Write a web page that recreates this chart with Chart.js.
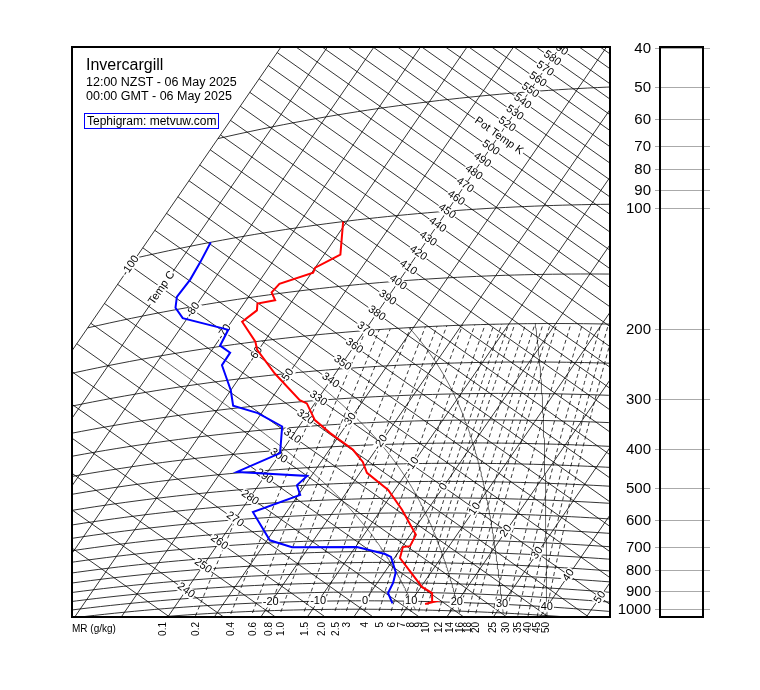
<!DOCTYPE html>
<html>
<head>
<meta charset="utf-8">
<script src="https://cdn.jsdelivr.net/npm/chart.js@4"></script>
<style>
  body { margin: 0; background: #fff; }
  canvas { display: block; }
</style>
</head>
<body>
<canvas id="tephi" width="760" height="690"></canvas>
<script>
// sounding: temperature
const presTemp = [1014, 1002, 952, 920, 780, 732, 728, 682, 589, 524, 472, 442, 410, 368, 338, 304, 297, 248, 211, 200, 174, 164, 157, 156, 148, 141, 135, 131, 123, 100];
const temp = [13.4, 14.8, 13.3, 10.2, 1.2, 0.2, 1.6, 1.2, -5.5, -11.4, -18.5, -21.0, -24.9, -32.3, -37.5, -41.7, -43.7, -53.0, -60.3, -61.9, -67.7, -66.2, -67.1, -63.8, -65.7, -65.3, -59.7, -60.0, -56.5, -60.8];
// sounding: dew point
const presDew = [1014, 955, 901, 847, 775, 762, 730, 723, 689, 577, 529, 499, 473, 447, 407, 346, 314, 295, 267, 226, 210, 199, 181, 178, 160, 148, 138, 125, 113, 100];
const dew = [6.3, 3.8, 3.4, 2.4, -0.9, -2.6, -9.7, -23.6, -29.4, -37.2, -29.6, -31.7, -30.9, -46.6, -40.1, -43.6, -50.8, -57.2, -60.0, -65.6, -65.7, -68.9, -69.5, -71.1, -81.0, -84.1, -85.4, -85.1, -85.5, -86.2];

// diagram lines / labels
const isotherms = [-100, -90, -80, -70, -60, -50, -40, -30, -20, -10, 0, 10, 20, 30, 40, 50];
const isotherms2 = [-100, -80, -70, -60, -50, -30, -20, -10, 0, 10, 20, 30, 40, 50];
const bottomTemps = [-20, -10, 0, 10, 20, 30, 40];
const isentropes = [];
for (let th = 230; th <= 610; th += 10) isentropes.push(th);
const isobars = [1050, 1000, 950, 900, 850, 800, 750, 700, 650, 600, 550, 500, 450, 400, 350, 300, 250, 200, 150, 100, 50];
const mixRatios = [0.1, 0.2, 0.4, 0.6, 0.8, 1.0, 1.5, 2.0, 2.5, 3, 4, 5, 6, 7, 8, 9, 10, 12, 14, 16, 18, 20, 25, 30, 35, 40, 45, 50];
const mixLabels = ['0.1', '0.2', '0.4', '0.6', '0.8', '1.0', '1.5', '2.0', '2.5', '3', '4', '5', '6', '7', '8', '9', '10', '12', '14', '16', '18', '20', '25', '30', '35', '40', '45', '50'];
const satAdiabats = [10, 20, 30, 40];
const pressureTicks = [40, 50, 60, 70, 80, 90, 100, 200, 300, 400, 500, 600, 700, 800, 900, 1000];

// tephigram transform: (T, theta) -> diagram plane
function xyTh(T, th) {
  const L = Math.log(th / 330);
  return { x: 318.2 + 3.13 * (T + 40) + 415 * L, y: 398.4 + 2.21 * (T + 40) - 603 * L };
}
function xy(T, p) {
  return xyTh(T, (T + 273.15) * Math.pow(1000 / p, 0.2857));
}
function dewFromMix(w, p) {
  const e = w * p / (622 + w);
  const g = Math.log(e / 6.112);
  return 243.5 * g / (17.67 - g);
}
function dTdp(T, p) {
  const es = 6.112 * Math.exp(17.67 * (T - 273.15) / (T - 29.65));
  const rs = 0.622 * es / (p - es);
  return (287 * T + 2.5e6 * rs) / (1004 + 2.5e6 * 2.5e6 * rs * 0.622 / (287 * T * T)) / p;
}
function satLine(thw) {
  const pts = [];
  let T = thw + 273.15;
  pts.push(xy(T + dTdp(T, 1000) * 50 - 273.15, 1050));
  for (let p = 1000; p >= 200; p -= 5) {
    pts.push(xy(T - 273.15, p));
    T -= dTdp(T, p) * 5;
  }
  return pts;
}

function ln(pts, color, width, dash) {
  return { data: pts, showLine: true, pointRadius: 0, borderColor: color, borderWidth: width,
           borderDash: dash || [], fill: false, tension: 0 };
}

const datasets = [
  ln(presTemp.map((p, i) => xy(temp[i], p)), '#ff0000', 2),
  ln(presDew.map((p, i) => xy(dew[i], p)), '#0000ff', 2)
];
const gridStart = datasets.length;
isotherms.forEach(T => datasets.push(ln([xy(T, 1200), xy(T, 20)], '#000', 0.8)));
isentropes.forEach(th => datasets.push(ln([xyTh(-100, th), xyTh(60, th)], '#000', 0.8)));
isobars.forEach(p => {
  const pts = [];
  for (let T = -100; T <= 60; T += 2) pts.push(xy(T, p));
  datasets.push(ln(pts, '#000', 0.8));
});
mixRatios.forEach(w => {
  const pts = [];
  for (let p = 1060; p >= 200; p -= 10) {
    const td = dewFromMix(w, p);
    if (td >= -40) pts.push(xy(td, p));
  }
  if (pts.length > 1) datasets.push(ln(pts, '#000', 0.8, [4, 3]));
});
satAdiabats.forEach(t => datasets.push(ln(satLine(t), '#000', 0.6)));
const lastGrid = gridStart;

function tag(ctx, text, x, y, angle, font, bg) {
  ctx.save();
  ctx.translate(x, y);
  ctx.rotate(angle);
  ctx.font = font;
  ctx.textAlign = 'center';
  ctx.textBaseline = 'middle';
  if (bg) {
    const w = ctx.measureText(text).width;
    ctx.fillStyle = '#fff';
    ctx.fillRect(-w / 2 - 1, -5, w + 2, 10);
  }
  ctx.fillStyle = '#000';
  ctx.fillText(text, 0, 0);
  ctx.restore();
}

const tephiPlugin = {
  id: 'tephi',
  afterDatasetDraw(chart, args) {
    if (args.index !== lastGrid) return;
    const { ctx, chartArea: a, scales } = chart;
    const px = q => ({ x: scales.x.getPixelForValue(q.x), y: scales.y.getPixelForValue(q.y) });
    ctx.save();
    ctx.beginPath();
    ctx.rect(a.left, a.top, a.right - a.left, a.bottom - a.top);
    ctx.clip();
    const f = '11px "Liberation Sans", Arial, sans-serif';
    isentropes.forEach(th => {
      if (th < 240 || th > 590) return;
      const q = px(xyTh(-40, th));
      tag(ctx, th === 510 ? 'Pot Temp K' : String(th), q.x, q.y, 0.615, f, true);
    });
    tag(ctx, 'Temp C', px(xyTh(-90, 330)).x, px(xyTh(-90, 330)).y, -0.969, f, true);
    isotherms2.forEach(T => {
      const q = px(xyTh(T, 330));
      tag(ctx, String(T), q.x, q.y, -0.969, f, true);
    });
    bottomTemps.forEach(T => {
      const q = px(xy(T, 1000));
      tag(ctx, String(T), q.x, q.y, 0, f, true);
    });
    ctx.restore();
  },
  afterDraw(chart) {
    const { ctx, chartArea: a, scales } = chart;
    ctx.save();
    // titles
    ctx.fillStyle = '#000';
    ctx.textAlign = 'left';
    ctx.textBaseline = 'alphabetic';
    ctx.font = '16px "Liberation Sans", Arial, sans-serif';
    ctx.fillText('Invercargill', 86, 70);
    ctx.font = '12.5px "Liberation Sans", Arial, sans-serif';
    ctx.fillText('12:00 NZST - 06 May 2025', 86, 86);
    ctx.fillText('00:00 GMT - 06 May 2025', 86, 100);
    ctx.fillStyle = '#fff';
    ctx.fillRect(84, 113, 134, 16);
    ctx.strokeStyle = '#0000ff';
    ctx.lineWidth = 1;
    ctx.strokeRect(84.5, 113.5, 134, 15);
    ctx.fillStyle = '#000';
    ctx.font = '12px "Liberation Sans", Arial, sans-serif';
    ctx.fillText('Tephigram: metvuw.com', 87, 125);
    // frames
    ctx.strokeStyle = '#000';
    ctx.lineWidth = 2;
    ctx.strokeRect(a.left, a.top, a.right - a.left, a.bottom - a.top);
    // pressure panel
    ctx.strokeStyle = '#aaa';
    ctx.lineWidth = 1;
    ctx.font = '15px "Liberation Sans", Arial, sans-serif';
    ctx.textAlign = 'right';
    ctx.textBaseline = 'middle';
    pressureTicks.forEach(p => {
      const y = Math.round(scales.p.getPixelForValue(p)) + 0.5;
      ctx.beginPath();
      ctx.moveTo(655, y);
      ctx.lineTo(710, y);
      ctx.stroke();
      ctx.fillText(String(p), 651, y);
    });
    ctx.strokeStyle = '#000';
    ctx.lineWidth = 2;
    ctx.strokeRect(660, a.top, 43, a.bottom - a.top);
    // mixing ratio labels
    ctx.font = '10px "Liberation Sans", Arial, sans-serif';
    ctx.textAlign = 'left';
    ctx.fillText('MR (g/kg)', 72, 629);
    mixRatios.forEach((w, i) => {
      const x = scales.x.getPixelForValue(xy(dewFromMix(w, 1047), 1047).x);
      ctx.save();
      ctx.translate(x, 622);
      ctx.rotate(-Math.PI / 2);
      ctx.textAlign = 'right';
      ctx.textBaseline = 'middle';
      ctx.fillText(mixLabels[i], 0, 0);
      ctx.restore();
    });
    ctx.restore();
  }
};

new Chart(document.getElementById('tephi'), {
  type: 'scatter',
  data: { datasets },
  options: {
    responsive: false,
    animation: false,
    layout: { padding: { left: 72, top: 47, right: 150, bottom: 73 } },
    plugins: { legend: { display: false }, tooltip: { enabled: false } },
    scales: {
      x: { type: 'linear', min: 72, max: 610, display: false },
      y: { type: 'linear', min: 47, max: 617, reverse: true, display: false },
      p: { type: 'logarithmic', min: 39.7, max: 1047, reverse: true, display: false, position: 'right' }
    }
  },
  plugins: [tephiPlugin]
});
</script>
</body>
</html>
